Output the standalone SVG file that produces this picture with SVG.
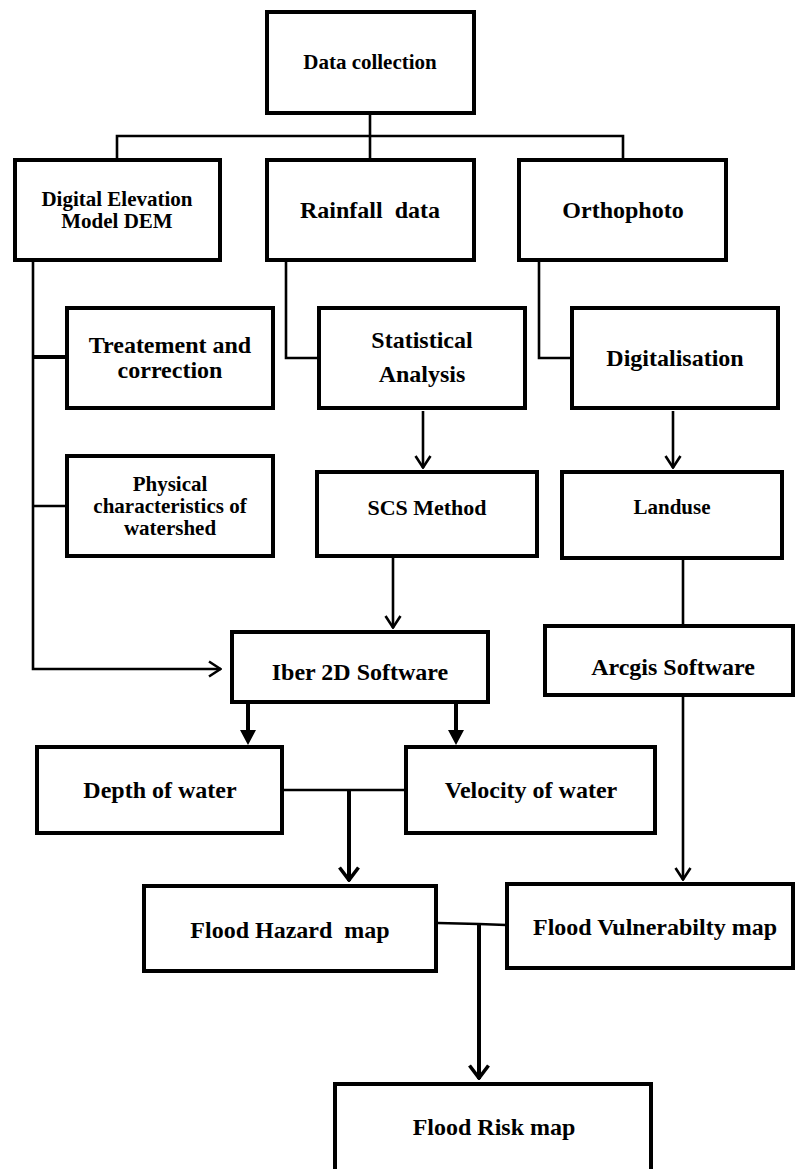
<svg xmlns="http://www.w3.org/2000/svg" width="795" height="1169" viewBox="0 0 795 1169">
<style>
  .box { fill: #ffffff; stroke: #000000; stroke-width: 4; }
  .t { font-family: "Liberation Serif", "Times New Roman", serif; font-weight: bold; fill: #000000; text-anchor: middle; }
  .s24 { font-size: 24px; }
  .s21 { font-size: 21px; }
  .s22 { font-size: 22px; }
  .c { fill: none; stroke: #000000; stroke-width: 2.6; }
  .ck { fill: none; stroke: #000000; stroke-width: 4; }
</style>
<defs>
  <marker id="openThin" markerUnits="userSpaceOnUse" viewBox="0 0 14 18" refX="13" refY="9" markerWidth="14" markerHeight="18" orient="auto">
    <path d="M1,1.5 L12.5,9 L1,16.5" fill="none" stroke="#000" stroke-width="2.6"/>
  </marker>
  <marker id="openThick" markerUnits="userSpaceOnUse" viewBox="0 0 16 22" refX="15" refY="11" markerWidth="16" markerHeight="22" orient="auto">
    <path d="M1.5,1.5 L14,11 L1.5,20.5" fill="none" stroke="#000" stroke-width="3.6"/>
  </marker>
  <marker id="filled" markerUnits="userSpaceOnUse" viewBox="0 0 12 16" refX="12" refY="8" markerWidth="12" markerHeight="16" orient="auto">
    <path d="M0,0 L12,8 L0,16 Z" fill="#000"/>
  </marker>
</defs>

<g id="connectors">
  <line class="c" x1="370" y1="115" x2="370" y2="159"/>
  <polyline class="c" points="117,159 117,136 623,136 623,159"/>
  <polyline class="c" points="33,262 33,669 221,669" marker-end="url(#openThin)"/>
  <line class="ck" x1="33" y1="357" x2="66" y2="357"/>
  <line class="c" x1="33" y1="506" x2="66" y2="506"/>
  <polyline class="c" points="286,262 286,358 318,358"/>
  <polyline class="c" points="539,262 539,358 571,358"/>
  <line class="c" x1="423" y1="411" x2="423" y2="468" marker-end="url(#openThin)"/>
  <line class="c" x1="673" y1="411" x2="673" y2="468" marker-end="url(#openThin)"/>
  <line class="c" x1="393" y1="558" x2="393" y2="628" marker-end="url(#openThin)"/>
  <line class="c" x1="683" y1="560" x2="683" y2="625"/>
  <line class="c" x1="683" y1="697" x2="683" y2="880" marker-end="url(#openThin)"/>
  <line class="ck" x1="248" y1="704" x2="248" y2="731"/>
  <path d="M240,730 L256,730 L248,745 Z" fill="#000"/>
  <line class="ck" x1="456" y1="704" x2="456" y2="731"/>
  <path d="M448,730 L464,730 L456,745 Z" fill="#000"/>
  <line class="c" x1="284" y1="790" x2="405" y2="790"/>
  <line class="ck" x1="349" y1="790" x2="349" y2="881" marker-end="url(#openThick)"/>
  <polyline class="c" points="438,923 479,924 506,925"/>
  <line class="ck" x1="479" y1="924" x2="479" y2="1079" marker-end="url(#openThick)"/>
</g>

<g id="n-data-collection">
  <rect class="box" x="267" y="12" width="207" height="101"/>
  <text class="t s21" x="370" y="69">Data collection</text>
</g>
<g id="n-dem">
  <rect class="box" x="15" y="160" width="205" height="100"/>
  <text class="t s21" x="117" y="206">Digital Elevation</text>
  <text class="t s21" x="117" y="228">Model DEM</text>
</g>
<g id="n-rainfall">
  <rect class="box" x="267" y="160" width="207" height="100"/>
  <text class="t s24" x="370" y="218" xml:space="preserve">Rainfall  data</text>
</g>
<g id="n-orthophoto">
  <rect class="box" x="519" y="160" width="207" height="100"/>
  <text class="t s24" x="623" y="218">Orthophoto</text>
</g>
<g id="n-treatement">
  <rect class="box" x="67" y="308" width="206" height="100"/>
  <text class="t s24" x="170" y="353">Treatement and</text>
  <text class="t s24" x="170" y="378">correction</text>
</g>
<g id="n-statistical">
  <rect class="box" x="319" y="308" width="206" height="100"/>
  <text class="t s24" x="422" y="348">Statistical</text>
  <text class="t s24" x="422" y="382">Analysis</text>
</g>
<g id="n-digitalisation">
  <rect class="box" x="572" y="308" width="206" height="100"/>
  <text class="t s24" x="675" y="366">Digitalisation</text>
</g>
<g id="n-physical">
  <rect class="box" x="67" y="456" width="206" height="100"/>
  <text class="t s21" x="170" y="491">Physical</text>
  <text class="t s21" x="170" y="513">characteristics of</text>
  <text class="t s21" x="170" y="535">watershed</text>
</g>
<g id="n-scs">
  <rect class="box" x="317" y="472" width="220" height="84"/>
  <text class="t s22" x="427" y="515">SCS Method</text>
</g>
<g id="n-landuse">
  <rect class="box" x="562" y="472" width="220" height="86"/>
  <text class="t s21" x="672" y="514">Landuse</text>
</g>
<g id="n-iber">
  <rect class="box" x="232" y="632" width="256" height="70"/>
  <text class="t s24" x="360" y="680">Iber 2D Software</text>
</g>
<g id="n-arcgis">
  <rect class="box" x="545" y="626" width="248" height="69"/>
  <text class="t s24" x="673" y="675">Arcgis Software</text>
</g>
<g id="n-depth">
  <rect class="box" x="37" y="747" width="245" height="86"/>
  <text class="t s24" x="160" y="798">Depth of water</text>
</g>
<g id="n-velocity">
  <rect class="box" x="406" y="747" width="249" height="86"/>
  <text class="t s24" x="531" y="798">Velocity of water</text>
</g>
<g id="n-hazard">
  <rect class="box" x="144" y="886" width="292" height="85"/>
  <text class="t s24" x="290" y="938" xml:space="preserve">Flood Hazard  map</text>
</g>
<g id="n-vulnerability">
  <rect class="box" x="507" y="884" width="286" height="84"/>
  <text class="t s24" x="655" y="935">Flood Vulnerabilty map</text>
</g>
<g id="n-risk">
  <rect class="box" x="335" y="1084" width="316" height="100"/>
  <text class="t s24" x="494" y="1135">Flood Risk map</text>
</g>
</svg>
